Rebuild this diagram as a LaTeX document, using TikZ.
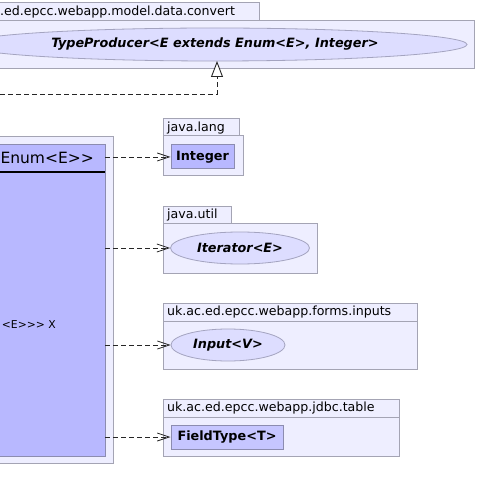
\documentclass[tikz,border=0pt]{standalone}
\usepackage{fontspec}
\setmainfont{DejaVu Sans}[Ligatures=TeXOff]
\usetikzlibrary{arrows.meta,shapes.geometric}
\definecolor{pkgfill}{HTML}{EEEEFF}
\definecolor{pkgdraw}{HTML}{A4A4B4}
\definecolor{clsfill}{HTML}{B8B8FF}
\definecolor{clsdraw}{HTML}{8C8CB0}
\definecolor{ifill}{HTML}{DDDDFF}
\definecolor{idraw}{HTML}{A4A4C0}
\tikzset{
  pkg/.style={draw=pkgdraw, fill=pkgfill, line width=1pt},
  pkglabel/.style={anchor=west, inner sep=0pt, font=\fontsize{12.6}{14}\selectfont},
  iface/.style={ellipse, draw=idraw, fill=ifill, line width=0.8pt, inner sep=0pt,
    font=\fontsize{12.8}{14}\bfseries\itshape},
  boxcls/.style={rectangle, draw=clsdraw, fill=clsfill, line width=1pt, inner sep=0pt,
    font=\fontsize{12.8}{14}\bfseries},
  dep/.style={draw=black!85, line width=0.8pt, dash pattern=on 5pt off 3pt,
    -{Straight Barb[length=12pt,width=8pt,line width=0.8pt]}},
  impl/.style={draw=black!85, line width=0.8pt, dash pattern=on 5pt off 3pt,
    -{Triangle[open,length=16pt,width=12pt,line width=0.9pt,fill=white]}}
}
\begin{document}
\begin{tikzpicture}[x=1pt,y=-1pt]
\useasboundingbox (0,0) rectangle (477,502);
\clip (0,0) rectangle (477,502);
% top package
\draw[pkg] (-5,3) rectangle (259,21);
\draw[pkg] (-5,21) rectangle (474,69);
\node[pkglabel] (toplbl) at (0,12) {.ed.epcc.webapp.model.data.convert};
\node[iface, minimum width=504pt, minimum height=33pt] (tp) at (215,44.5)
  {TypeProducer<E extends Enum<E>, Integer>};
% left package with class
\draw[pkg] (-5,137) rectangle (113,463);
\node[rectangle, draw=clsdraw, fill=clsfill, line width=1pt, inner sep=0pt,
  minimum width=115pt, minimum height=311pt] (cls) at (47.5,300.5) {};
\draw[line width=2pt, black] (-5,172) -- (105,172);
\node[anchor=east, inner sep=0pt, font=\fontsize{15.5}{17}\selectfont] (hdr) at (94,158) {Enum<E>>};
\node[anchor=east, inner sep=0pt, font=\fontsize{10.8}{13}\selectfont] (mem) at (56,325) {<E>>> X};
% java.lang
\draw[pkg] (163,119) rectangle (239,136);
\draw[pkg] (163,136) rectangle (243,176);
\node[pkglabel] (l1) at (167,128) {java.lang};
\node[boxcls, minimum width=63pt, minimum height=24pt] (int) at (202.5,157) {Integer};
% java.util
\draw[pkg] (163,207) rectangle (231,224);
\draw[pkg] (163,224) rectangle (317,273);
\node[pkglabel] (l2) at (167,215.5) {java.util};
\node[iface, minimum width=139pt, minimum height=32pt] (it) at (240,248) {Iterator<E>};
% forms.inputs
\draw[pkg] (163,303) rectangle (417,321);
\draw[pkg] (163,321) rectangle (417,369);
\node[pkglabel] (l3) at (167,312) {uk.ac.ed.epcc.webapp.forms.inputs};
\node[iface, minimum width=114pt, minimum height=32pt] (inp) at (228,345) {Input<V>};
% jdbc.table
\draw[pkg] (163,399) rectangle (399,417);
\draw[pkg] (163,417) rectangle (399,456);
\node[pkglabel] (l4) at (167,408) {uk.ac.ed.epcc.webapp.jdbc.table};
\node[rectangle, draw=clsdraw, fill=clsfill!80!white, line width=1pt, inner sep=0pt,
  font=\fontsize{12.8}{14}\bfseries, minimum width=112pt, minimum height=24pt] (ft) at (227,437) {FieldType<T>};
% connectors
\coordinate (src) at (0,94);
\draw[impl] (src) -- (217,94) -- (217,61);
\draw[dep] (105,157) -- (int.west);
\draw[dep] (105,248) -- (it.west);
\draw[dep] (105,345) -- (inp.west);
\draw[dep] (105,437) -- (ft.west);
\end{tikzpicture}
\end{document}
